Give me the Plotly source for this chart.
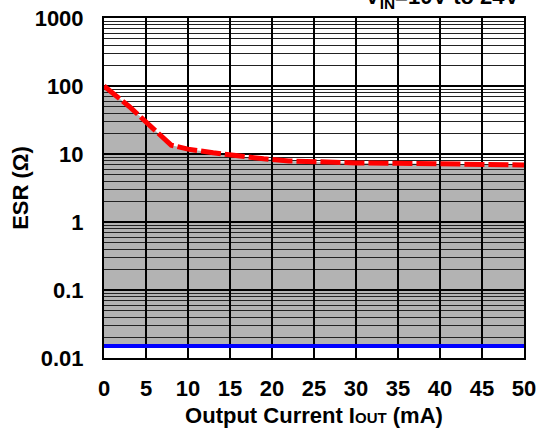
import plotly.graph_objects as go

# Data
iout_ma = [0, 3, 8, 10, 13, 16, 19, 22, 25, 30, 35, 40, 45, 50]
esr_upper = [100, 50, 13.5, 11.8, 10.4, 9.3, 8.5, 7.9, 7.6, 7.4, 7.3, 7.1, 7.0, 6.9]
esr_lower_value = 0.015
x_ticks = [0, 5, 10, 15, 20, 25, 30, 35, 40, 45, 50]
y_ticks = [0.01, 0.1, 1, 10, 100, 1000]
y_ticktext = ["0.01", "0.1", "1", "10", "100", "1000"]

lower_x = [iout_ma[0], iout_ma[-1]]
lower_y = [esr_lower_value, esr_lower_value]

# stable region shape path (built from the data arrays), drawn below gridlines
pts = [(iout_ma[0], esr_lower_value)] + list(zip(iout_ma, esr_upper)) + [(iout_ma[-1], esr_lower_value)]
path = "M " + " L ".join(f"{x},{y}" for x, y in pts) + " Z"

FONT = "Liberation Sans"
FS = 22

fig = go.Figure()
fig.add_shape(type="path", path=path, xref="x", yref="y",
              fillcolor="#b3b3b3", line=dict(width=0), layer="below")

fig.add_trace(go.Scatter(x=lower_x, y=lower_y, mode="lines",
                         line=dict(color="#0000ff", width=4), showlegend=False))
fig.add_trace(go.Scatter(x=iout_ma, y=esr_upper, mode="lines",
                         line=dict(color="#ff0000", width=5, dash="20px,4px"),
                         showlegend=False))

fig.update_layout(
    width=540, height=428,
    margin=dict(l=104, r=16, t=18, b=70),
    paper_bgcolor="white", plot_bgcolor="white",
    font=dict(family=FONT, size=FS, color="black"),
    showlegend=False,
)
fig.update_xaxes(
    range=[0, 50], tickvals=x_ticks, showgrid=True, gridcolor="black", gridwidth=1.5,
    showline=True, linecolor="black", linewidth=2, mirror=True, zeroline=False,
    ticks="", ticklabelstandoff=10, automargin=False,
    tickfont=dict(family=FONT, size=FS, color="black", weight="bold"),
    title=dict(text="Output Current I<span style='font-size:15px'>OUT</span> (mA)",
               font=dict(family=FONT, size=FS, color="black", weight="bold"), standoff=12),
)
fig.update_yaxes(
    type="log", range=[-2, 3], tickvals=y_ticks, ticktext=y_ticktext,
    showgrid=True, gridcolor="black", gridwidth=1.5,
    minor=dict(dtick="D1", showgrid=True, gridcolor="#222222", gridwidth=1, ticks=""),
    showline=True, linecolor="black", linewidth=2, mirror=True, zeroline=False,
    ticks="", ticklabelstandoff=14, automargin=False,
    tickfont=dict(family=FONT, size=FS, color="black", weight="bold"),
    title=dict(text="ESR (Ω)", font=dict(family=FONT, size=FS, color="black", weight="bold"),
               standoff=0),
)
fig.add_annotation(text="V<sub>IN</sub>=10V to 24V", xref="paper", yref="paper",
                   x=1, y=1, xanchor="right", yanchor="middle", xshift=-2, yshift=20,
                   showarrow=False, font=dict(family=FONT, size=FS, color="black", weight="bold"))

fig.write_html("out.html", config={"displayModeBar": False},
               post_script="document.body.style.margin='0';")
